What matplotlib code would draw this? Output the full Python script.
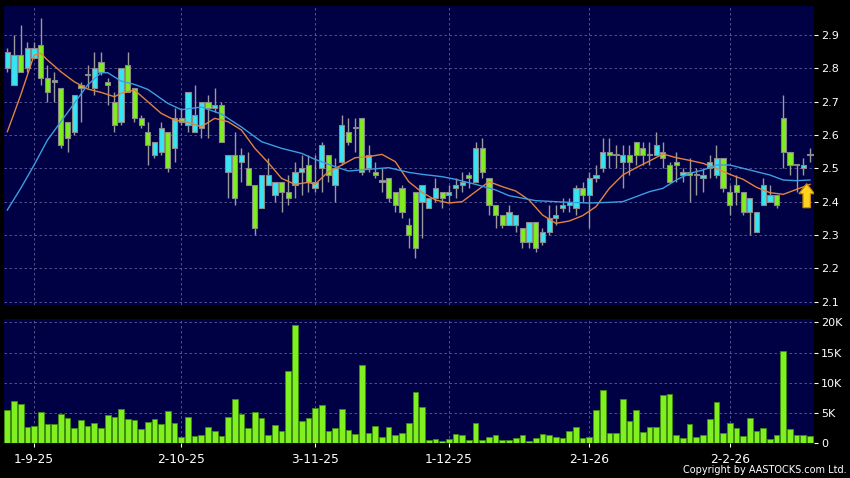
import matplotlib.pyplot as plt
import numpy as np
from matplotlib.patches import FancyArrow

# daily candles, oldest first (HKD)
opens = [2.80, 2.75, 2.84, 2.80, 2.83, 2.87, 2.77, 2.76, 2.74, 2.64,
         2.61, 2.75, 2.78, 2.74, 2.82, 2.76, 2.70, 2.64, 2.81, 2.74,
         2.65, 2.61, 2.54, 2.55, 2.61, 2.56, 2.65, 2.63, 2.61, 2.62,
         2.70, 2.68, 2.69, 2.49, 2.54, 2.52, 2.50, 2.45, 2.38, 2.45,
         2.42, 2.46, 2.43, 2.45, 2.49, 2.51, 2.44, 2.50, 2.54, 2.45,
         2.52, 2.61, 2.62, 2.65, 2.50, 2.49, 2.46, 2.47, 2.43, 2.44,
         2.33, 2.43, 2.40, 2.38, 2.41, 2.43, 2.42, 2.44, 2.45, 2.48,
         2.46, 2.56, 2.47, 2.39, 2.36, 2.33, 2.33, 2.32, 2.28, 2.34,
         2.28, 2.31, 2.35, 2.38, 2.39, 2.38, 2.44, 2.42, 2.47, 2.50,
         2.55, 2.54, 2.52, 2.54, 2.58, 2.56, 2.54, 2.54, 2.55, 2.51,
         2.52, 2.48, 2.49, 2.48, 2.47, 2.50, 2.48, 2.53, 2.43, 2.45,
         2.43, 2.37, 2.31, 2.39, 2.40, 2.42, 2.65, 2.55, 2.51, 2.50,
         2.54]
highs = [2.86, 2.90, 2.93, 2.88, 2.88, 2.95, 2.81, 2.79, 2.74, 2.64,
         2.72, 2.76, 2.81, 2.85, 2.85, 2.77, 2.73, 2.80, 2.85, 2.74,
         2.66, 2.64, 2.58, 2.64, 2.61, 2.68, 2.68, 2.73, 2.75, 2.70,
         2.72, 2.74, 2.70, 2.54, 2.61, 2.56, 2.55, 2.45, 2.48, 2.53,
         2.46, 2.46, 2.48, 2.52, 2.54, 2.54, 2.54, 2.58, 2.54, 2.53,
         2.66, 2.65, 2.65, 2.65, 2.57, 2.52, 2.50, 2.47, 2.43, 2.45,
         2.35, 2.43, 2.45, 2.41, 2.47, 2.43, 2.45, 2.47, 2.49, 2.49,
         2.58, 2.59, 2.47, 2.39, 2.36, 2.39, 2.36, 2.32, 2.34, 2.34,
         2.32, 2.39, 2.39, 2.41, 2.41, 2.45, 2.46, 2.49, 2.51, 2.59,
         2.59, 2.57, 2.57, 2.57, 2.58, 2.58, 2.58, 2.61, 2.58, 2.52,
         2.55, 2.50, 2.53, 2.50, 2.50, 2.54, 2.57, 2.53, 2.45, 2.48,
         2.43, 2.41, 2.37, 2.47, 2.45, 2.42, 2.72, 2.55, 2.51, 2.53,
         2.56]
lows = [2.79, 2.75, 2.79, 2.79, 2.83, 2.75, 2.70, 2.70, 2.56, 2.55,
        2.60, 2.64, 2.74, 2.72, 2.78, 2.69, 2.61, 2.63, 2.73, 2.64,
        2.62, 2.51, 2.53, 2.54, 2.49, 2.52, 2.63, 2.61, 2.61, 2.59,
        2.59, 2.67, 2.58, 2.41, 2.39, 2.46, 2.45, 2.30, 2.38, 2.45,
        2.40, 2.37, 2.39, 2.41, 2.42, 2.43, 2.43, 2.43, 2.46, 2.40,
        2.51, 2.57, 2.55, 2.48, 2.49, 2.47, 2.43, 2.40, 2.37, 2.35,
        2.26, 2.23, 2.29, 2.38, 2.40, 2.38, 2.40, 2.41, 2.43, 2.44,
        2.46, 2.47, 2.36, 2.32, 2.32, 2.33, 2.31, 2.26, 2.26, 2.25,
        2.27, 2.30, 2.33, 2.37, 2.37, 2.36, 2.40, 2.32, 2.46, 2.49,
        2.50, 2.50, 2.44, 2.48, 2.51, 2.51, 2.51, 2.54, 2.50, 2.46,
        2.46, 2.46, 2.40, 2.42, 2.43, 2.47, 2.47, 2.43, 2.36, 2.39,
        2.36, 2.30, 2.31, 2.39, 2.40, 2.38, 2.50, 2.48, 2.43, 2.48,
        2.52]
closes = [2.85, 2.84, 2.79, 2.86, 2.86, 2.77, 2.73, 2.76, 2.57, 2.59,
          2.72, 2.74, 2.78, 2.80, 2.79, 2.75, 2.63, 2.80, 2.73, 2.65,
          2.63, 2.57, 2.58, 2.62, 2.50, 2.65, 2.64, 2.73, 2.66, 2.70,
          2.68, 2.69, 2.58, 2.54, 2.41, 2.54, 2.45, 2.32, 2.48, 2.48,
          2.46, 2.43, 2.41, 2.49, 2.50, 2.46, 2.46, 2.57, 2.48, 2.50,
          2.63, 2.58, 2.62, 2.49, 2.54, 2.48, 2.46, 2.41, 2.39, 2.37,
          2.30, 2.26, 2.45, 2.41, 2.44, 2.41, 2.43, 2.45, 2.46, 2.47,
          2.56, 2.49, 2.39, 2.36, 2.33, 2.37, 2.36, 2.28, 2.34, 2.26,
          2.31, 2.35, 2.36, 2.39, 2.40, 2.44, 2.42, 2.47, 2.48, 2.55,
          2.54, 2.54, 2.54, 2.52, 2.54, 2.54, 2.54, 2.57, 2.53, 2.46,
          2.51, 2.49, 2.48, 2.48, 2.48, 2.52, 2.53, 2.44, 2.39, 2.43,
          2.37, 2.41, 2.37, 2.45, 2.42, 2.39, 2.55, 2.51, 2.51, 2.51,
          2.54]
# volume in thousand shares
volumes = [5.5, 7.0, 6.5, 2.65, 2.8, 5.1, 3.15, 3.25, 4.8, 4.25,
           2.55, 3.85, 2.8, 3.3, 2.6, 4.75, 4.4, 5.6, 4.0, 3.85,
           2.3, 3.6, 4.0, 3.15, 5.35, 3.35, 1.1, 4.4, 1.2, 1.4,
           2.65, 2.1, 1.15, 4.35, 7.3, 4.9, 2.55, 5.2, 4.15, 1.45,
           3.05, 2.1, 12.0, 19.6, 3.75, 4.2, 5.85, 6.3, 2.0, 2.45,
           5.6, 2.25, 1.6, 13.0, 1.65, 2.85, 1.05, 2.7, 1.4, 1.7,
           3.3, 8.4, 6.0, 0.55, 0.65, 0.4, 0.65, 1.5, 1.3, 0.5,
           3.3, 0.5, 1.05, 1.3, 0.55, 0.5, 0.85, 1.35, 0.4, 0.85,
           1.5, 1.35, 1.05, 0.95, 2.1, 2.65, 0.9, 1.05, 5.5, 8.8,
           1.75, 1.75, 7.3, 3.65, 5.5, 1.9, 2.65, 2.7, 8.05, 8.1,
           1.3, 0.9, 3.2, 1.05, 1.45, 4.0, 6.75, 1.75, 3.35, 2.55,
           1.15, 4.15, 2.0, 2.6, 0.7, 1.35, 15.2, 2.35, 1.3, 1.35,
           1.25]

# moving averages (day index, value)
ma_short_day = [0, 2, 4, 5, 6, 8, 10, 12, 14, 16, 17, 19, 21, 23, 25, 27, 29, 31,
                33, 35, 37, 39, 41, 43, 45, 46, 48, 50, 52, 54, 56, 58, 60, 62,
                64, 66, 68, 70, 72, 74, 76, 78, 80, 82, 84, 86, 88, 90, 92, 94,
                96, 98, 100, 102, 104, 106, 108, 110, 112, 114, 116, 118, 120]
ma_short = [2.61, 2.72, 2.84, 2.845, 2.825, 2.79, 2.76, 2.738, 2.728, 2.715, 2.725,
            2.735, 2.70, 2.665, 2.645, 2.638, 2.625, 2.65, 2.64, 2.615, 2.56, 2.517,
            2.47, 2.452, 2.458, 2.452, 2.49, 2.51, 2.532, 2.535, 2.542, 2.52, 2.46,
            2.428, 2.405, 2.396, 2.40, 2.43, 2.46, 2.445, 2.432, 2.405, 2.36, 2.335,
            2.342, 2.358, 2.385, 2.44, 2.48, 2.502, 2.522, 2.543, 2.532, 2.524, 2.515,
            2.50, 2.482, 2.467, 2.443, 2.427, 2.422, 2.437, 2.452]
ma_long_day = [0, 2, 4, 6, 8, 10, 12, 14, 15, 17, 19, 21, 24, 26, 29, 32, 35, 38,
               41, 44, 46, 49, 51, 54, 57, 60, 62, 65, 67, 70, 73, 75, 79, 82, 84,
               87, 90, 92, 94, 96, 98, 100, 102, 104, 106, 108, 110, 112, 114, 116,
               118, 120]
ma_long = [2.375, 2.44, 2.51, 2.585, 2.64, 2.695, 2.75, 2.787, 2.787, 2.762, 2.752,
           2.737, 2.695, 2.676, 2.684, 2.663, 2.624, 2.58, 2.56, 2.545, 2.527, 2.505,
           2.492, 2.497, 2.502, 2.488, 2.482, 2.475, 2.467, 2.452, 2.435, 2.418, 2.403,
           2.40, 2.398, 2.396, 2.398, 2.40, 2.415, 2.43, 2.44, 2.465, 2.485, 2.495,
           2.51, 2.51, 2.50, 2.49, 2.48, 2.465, 2.463, 2.465]

date_days = [4, 26, 46, 66, 87, 108]
date_labels = ['1-9-25', '2-10-25', '3-11-25', '1-12-25', '2-1-26', '2-2-26']
price_ticks = [2.1, 2.2, 2.3, 2.4, 2.5, 2.6, 2.7, 2.8, 2.9]
vol_ticks = [0, 5, 10, 15, 20]
vol_labels = ['0', '5K', '10K', '15K', '20K']

BG = '#000044'
GRID = '#5e5e9c'
UP = '#36e4f4'
DOWN = '#7fee1e'

o = np.array(opens)
c = np.array(closes)
x = np.arange(len(o))

fig = plt.figure(figsize=(8.5, 4.78), dpi=100, facecolor='black')
ax = fig.add_axes([0.0047, 0.362, 0.953, 0.626], facecolor=BG)
axv = fig.add_axes([0.0047, 0.0726, 0.953, 0.26], facecolor=BG)

# candles
body_lo = np.minimum(o, c)
body_h = np.maximum(np.abs(c - o), 0.004)
cols = np.where(c > o, UP, np.where(c < o, DOWN, '#a0a0a0'))
ax.vlines(x, lows, highs, color='#9a9a9a', lw=1, zorder=2)
ax.bar(x, body_h, bottom=body_lo, width=0.78, color=cols, edgecolor='#8a8a8a',
       linewidth=0.8, zorder=3)

ax.plot(ma_short_day, ma_short, color='#e5823f', lw=1, zorder=4)
ax.plot(ma_long_day, ma_long, color='#3c9ee0', lw=1, zorder=4)

# latest-signal arrow
ax.add_patch(FancyArrow(119.5, 2.382, 0, 0.072, width=1.1, head_width=2.3,
                        head_length=0.03, length_includes_head=True,
                        facecolor='#ffd21f', edgecolor='#c98a00', lw=0.9, zorder=5))

axv.bar(x, volumes, width=0.85, color='#80f020', edgecolor='#3e8e10', linewidth=0.6)

for a in (ax, axv):
    a.set_xlim(-0.5, 120.6)
    for s in a.spines.values():
        s.set_visible(False)
    a.grid(True, color=GRID, ls=(0, (3, 3)), lw=0.6)
    a.set_axisbelow(True)
    a.yaxis.tick_right()
    a.tick_params(axis='y', colors='white', labelcolor='white', length=3,
                  direction='out', labelsize=8, pad=2)
    a.set_xticks(date_days)

ax.set_ylim(2.09, 2.988)
ax.set_yticks(price_ticks)
ax.set_yticklabels([f'{t:.1f}' for t in price_ticks])
ax.tick_params(axis='x', length=0, labelbottom=False)

axv.set_ylim(0, 20.55)
axv.set_yticks(vol_ticks)
axv.set_yticklabels(vol_labels)
axv.set_xticklabels(date_labels)
axv.tick_params(axis='x', colors='white', labelcolor='white', length=3,
                direction='out', labelsize=8.8, pad=4)

fig.text(0.996, 0.006, 'Copyright by AASTOCKS.com Ltd.', color='white',
         fontsize=7, ha='right', va='bottom')

fig.savefig('out.png', dpi=100, facecolor='black')
